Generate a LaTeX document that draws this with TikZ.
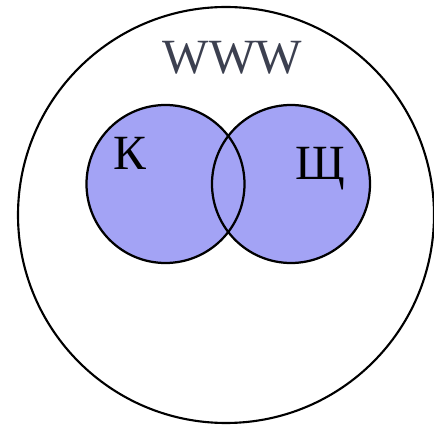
\documentclass[tikz,border=0pt]{standalone}
\usepackage{fontspec}
\setmainfont{Liberation Serif}
\usepackage{xcolor}
\usepackage{tikz}
\usetikzlibrary{backgrounds}
\definecolor{setfill}{RGB}{163,163,245}
\definecolor{labelgray}{RGB}{60,64,80}

\begin{document}
\begin{tikzpicture}[
  every node/.style={font=\fontsize{35}{37}\selectfont},
  universe/.style={
    circle, draw=black, line width=1.5pt,
    minimum size=10.4cm, inner sep=0pt
  },
  setcircle/.style={
    circle, draw=black, line width=1.6pt,
    minimum size=3.95cm, inner sep=0pt
  },
  setlabel/.style={anchor=base, inner sep=0pt, text=black}
]
\useasboundingbox (0,0) rectangle (10.85,10.675);

% Outer set
\node[universe] (www) at (5.65, 5.3) {};
\node[setlabel, text=labelgray] (wwwlabel) at (5.81, 8.825) {WWW};

% Two overlapping sets
\node[setcircle] (kset) at (4.1375, 6.075) {};
\node[setcircle] (shset) at (7.275, 6.075) {};

% Fill behind the outlines
\begin{scope}[on background layer]
  \fill[setfill] (kset.center) circle (1.975);
  \fill[setfill] (shset.center) circle (1.975);
\end{scope}

% Labels
\node[setlabel] (klabel) at (3.25, 6.425) {К};
\node[setlabel] (shlabel) at (8.0, 6.175) {Щ};

\end{tikzpicture}
\end{document}
